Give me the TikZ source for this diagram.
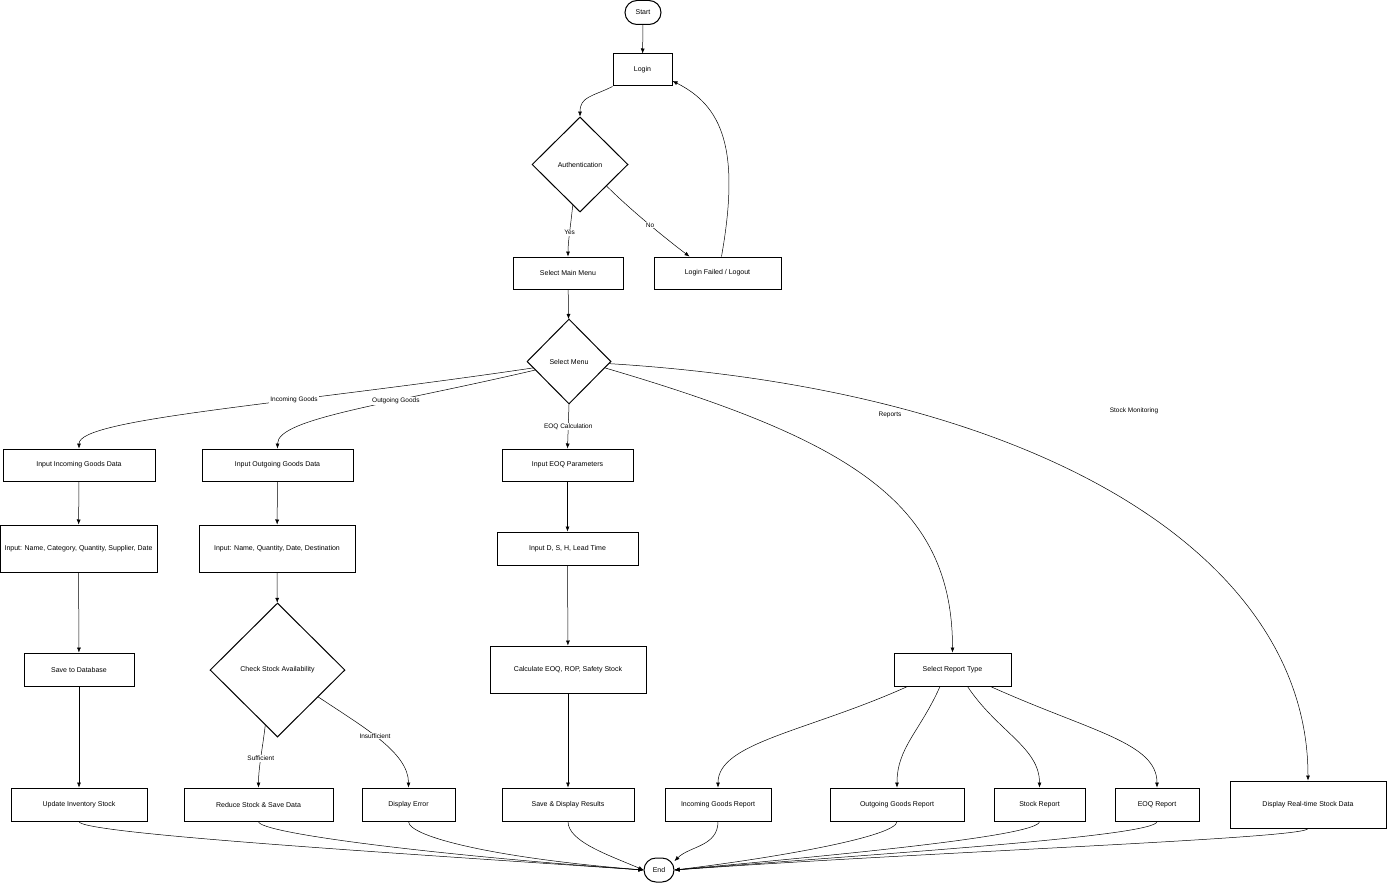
\documentclass[tikz,border=0pt]{standalone}
\usepackage{fontspec}
\setmainfont{Liberation Sans}
\usetikzlibrary{shapes.geometric,arrows.meta,calc}
\begin{document}
\begin{tikzpicture}[x=1pt,y=1pt,
 every node/.style={font=\fontsize{7}{8.5}\selectfont},
 box/.style={draw, line width=1pt, rectangle, inner sep=2pt, align=center},
 bx/.style 2 args={box, minimum width=#1, minimum height=#2},
 dia/.style={draw, line width=1pt, diamond, inner sep=0pt, align=center},
 term/.style={draw, line width=1pt, rounded corners=12pt, inner sep=0pt},
 arr/.style={draw, line width=0.5pt, -{Latex[length=5pt,width=4pt]}},
 lbl/.style={fill=white, inner sep=1pt, font=\fontsize{6.5}{7.5}\selectfont},
 lblfree/.style={inner sep=1pt, font=\fontsize{6.5}{7.5}\selectfont}]
\useasboundingbox (0,0) rectangle (1387,-883);

% nodes
\node[term, minimum width=36, minimum height=24] (start) at (643,-12.5) {Start};
\node[bx={59}{32}] (login) at (642.5,-70) {Login};
\node[dia, minimum width=96, minimum height=95] (auth) at (580,-164.5) {Authentication};
\node[bx={110}{32}] (smm) at (568,-273) {Select Main Menu};
\node[bx={127}{32}] (lf) at (717.5,-273) {Login Failed / Logout};
\node[dia, minimum width=84, minimum height=85] (menu) at (569,-361.5) {Select Menu};
\node[bx={152}{32}] (inc) at (79,-465) {Input Incoming Goods Data};
\node[bx={151}{32}] (out) at (277.5,-465) {Input Outgoing Goods Data};
\node[bx={131}{32}] (eoq) at (567.5,-465) {Input EOQ Parameters};
\node[bx={157}{47}, inner sep=1pt] (incd) at (78.5,-548.5) {Input: Name, Category, Quantity, Supplier, Date};
\node[bx={156}{47}] (outd) at (277,-548.5) {Input: Name, Quantity, Date, Destination};
\node[bx={141}{33}] (eoqd) at (567.5,-548.5) {Input D, S, H, Lead Time};
\node[bx={110}{33}] (save) at (79,-669.5) {Save to Database};
\node[dia, minimum width=135, minimum height=134] (chk) at (277.5,-670) {Check Stock Availability};
\node[bx={156}{47}] (calc) at (568,-669.5) {Calculate EOQ, ROP, Safety Stock};
\node[bx={117}{33}] (srt) at (952.5,-669.5) {Select Report Type};
\node[bx={136}{33}] (upd) at (79,-804.5) {Update Inventory Stock};
\node[bx={149}{33}] (red) at (258.5,-804.5) {Reduce Stock \& Save Data};
\node[bx={93}{33}] (err) at (408.5,-804.5) {Display Error};
\node[bx={132}{33}] (sdr) at (568,-804.5) {Save \& Display Results};
\node[bx={106}{33}] (igr) at (718,-804.5) {Incoming Goods Report};
\node[bx={134}{33}] (ogr) at (897,-804.5) {Outgoing Goods Report};
\node[bx={91}{33}] (sr) at (1039.5,-804.5) {Stock Report};
\node[bx={84}{33}] (er) at (1157,-804.5) {EOQ Report};
\node[bx={156}{47}] (rt) at (1308,-804.5) {Display Real-time Stock Data};
\node[term, minimum width=30, minimum height=24] (end) at (659,-870) {End};

% top part
\draw[arr] (start) -- (login);
\draw[arr] (login.south west) .. controls +(-20,-10) and +(0,20) .. (auth.north);
\draw[arr] ($(auth.west)!0.85!(auth.south)$) .. controls +(-2,-20) and +(0,15) .. node[lbl]{Yes} (smm.north);
\draw[arr] ($(auth.east)!0.45!(auth.south)$) .. controls +(25,-25) and +(-20,15) .. node[lbl]{No} ($(lf.north west)+(36,0)$);
\draw[arr] ($(lf.north)+(4,0)$) .. controls +(19,107) and +(50,-25) .. ($(login.east)+(0,-11)$);
\draw[arr] (smm) -- (menu);

% menu branches
\draw[arr] ($(menu.west)!0.15!(menu.south)$) .. controls +(-250,-37) and +(0,30) .. node[lbl,pos=0.35]{Incoming Goods} (inc.north);
\draw[arr] ($(menu.west)!0.2!(menu.south)$) .. controls +(-150,-35) and +(0,30) .. node[lbl,pos=0.35]{Outgoing Goods} (out.north);
\draw[arr] (menu.south) -- node[lbl]{EOQ Calculation} (eoq.north);
\draw[arr] ($(menu.east)!0.15!(menu.south)$) .. controls +(245,-72) and +(0,150) .. (srt.north);
\node[lblfree] (lrep) at (890,-415) {Reports};
\draw[arr] ($(menu.east)!0.05!(menu.south)$) .. controls +(439,-27) and +(0,221) .. (rt.north);
\node[lblfree] (lsm) at (1134,-411) {Stock Monitoring};

% chains
\draw[arr] (inc) -- (incd);
\draw[arr] (incd) -- (save);
\draw[arr] (save) -- (upd);
\draw[arr] (out) -- (outd);
\draw[arr] (outd) -- (chk);
\draw[arr] (eoq) -- (eoqd);
\draw[arr] (eoqd) -- (calc);
\draw[arr] (calc) -- (sdr);
\draw[arr] ($(chk.west)!0.82!(chk.south)$) .. controls +(-3,-25) and +(0,20) .. node[lbl]{Sufficient} (red.north);
\draw[arr] ($(chk.east)!0.4!(chk.south)$) .. controls +(45,-30) and +(0,35) .. node[lbl,pos=0.45]{Insufficient} (err.north);

% report types
\draw[arr] ($(srt.south west)+(14,0)$) .. controls +(-100,-45) and +(0,45) .. (igr.north);
\draw[arr] ($(srt.south west)+(46.5,0)$) .. controls +(-20,-45) and +(0,40) .. (ogr.north);
\draw[arr] ($(srt.south west)+(74,0)$) .. controls +(30,-45) and +(0,40) .. (sr.north);
\draw[arr] ($(srt.south west)+(97,0)$) .. controls +(100,-45) and +(0,45) .. (er.north);

% to end
\draw[arr] (upd.south) .. controls +(0,-12) and +(-250,17) .. (end.west);
\draw[arr] (red.south) .. controls +(0,-12) and +(-200,14) .. (end.west);
\draw[arr] (err.south) .. controls +(0,-15) and +(-150,12) .. (end.west);
\draw[arr] (sdr.south) .. controls +(0,-20) and +(-35,15) .. (end.west);
\draw[arr] (igr.south) .. controls +(0,-25) and +(15,15) .. (end.30);
\draw[arr] (ogr.south) .. controls +(0,-15) and +(100,12) .. (end.east);
\draw[arr] (sr.south) .. controls +(0,-15) and +(150,14) .. (end.east);
\draw[arr] (er.south) .. controls +(0,-15) and +(200,16) .. (end.east);
\draw[arr] (rt.south) .. controls +(0,-10) and +(250,18) .. (end.east);
\end{tikzpicture}
\end{document}
